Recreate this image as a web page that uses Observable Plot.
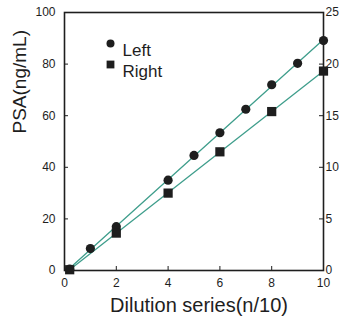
<!DOCTYPE html>
<html><head><meta charset="utf-8">
<script src="https://cdn.jsdelivr.net/npm/d3@7"></script>
<script src="https://cdn.jsdelivr.net/npm/@observablehq/plot@0.6"></script>
<style>body{margin:0;background:#fff;font-family:"Liberation Sans",Arial,sans-serif}</style>
</head><body><div id="chart"></div>
<script>
const seriesNames = ["Left", "Right"];
const seriesSymbols = ["circle", "square"];
const leftX = [0.2, 1, 2, 4, 5, 6, 7, 8, 9, 10];
const leftY = [0.5, 8.5, 17, 35, 44.6, 53.4, 62.5, 72, 80.3, 89.1];
const rightX = [0.2, 2, 4, 6, 8, 10];
const rightY = [0.3, 14.5, 30, 46, 61.6, 77.3];
const xTicks = [0, 2, 4, 6, 8, 10];
const yTicks = [0, 20, 40, 60, 80, 100];
const y2Ticks = [0, 5, 10, 15, 20, 25];
const xLabel = "Dilution series(n/10)";
const yLabel = "PSA(ng/mL)";

const data = [
  ...leftX.map((x, i) => ({series: seriesNames[0], x, y: leftY[i]})),
  ...rightX.map((x, i) => ({series: seriesNames[1], x, y: rightY[i]}))
];
const legendItems = seriesNames.map((name, i) => ({name, symbol: seriesSymbols[i], i}));
const y2scale = 100 / 25;
const font = "Liberation Sans, Arial, sans-serif";
const ink = "#1e1e1e";
const teal = "#3f9e8c";

const chart = Plot.plot({
  width: 339, height: 317,
  marginLeft: 64, marginRight: 16, marginTop: 12, marginBottom: 47,
  style: {fontFamily: font, color: ink, background: "#fff"},
  x: {domain: [0, 10]},
  y: {domain: [0, 100]},
  marks: [
    Plot.frame({stroke: ink, strokeWidth: 1.6}),
    Plot.axisX({ticks: xTicks, tickSize: -4, tickPadding: 12, fontSize: 12, label: null, stroke: ink}),
    Plot.axisY({ticks: yTicks, tickSize: -4, tickPadding: 13, fontSize: 12, label: null, stroke: ink}),
    Plot.axisY({anchor: "right", ticks: y2Ticks.map(d => d * y2scale), tickFormat: d => d / y2scale,
      tickSize: -5, tickPadding: 7, fontSize: 12, label: null, stroke: ink}),
    Plot.linearRegressionY(data, {x: "x", y: "y", z: "series", stroke: teal, strokeWidth: 1.3, ci: 0}),
    Plot.dot(data.filter(d => d.series === seriesNames[0]), {x: "x", y: "y", r: 4.6, fill: ink, symbol: seriesSymbols[0]}),
    Plot.dot(data.filter(d => d.series === seriesNames[1]), {x: "x", y: "y", r: 5.2, fill: ink, symbol: seriesSymbols[1]}),
    // legend
    Plot.dot(legendItems.slice(0, 1), {frameAnchor: "top-left", dx: 46, dy: 31, fill: ink, r: 4, symbol: "symbol"}),
    Plot.dot(legendItems.slice(1), {frameAnchor: "top-left", dx: 46, dy: 52, fill: ink, r: 4.4, symbol: "symbol"}),
    Plot.text(legendItems.slice(0, 1), {frameAnchor: "top-left", text: "name", dx: 58, dy: 31, textAnchor: "start", fontSize: 17, fill: ink}),
    Plot.text(legendItems.slice(1), {frameAnchor: "top-left", text: "name", dx: 58, dy: 52, textAnchor: "start", fontSize: 17, fill: ink}),
    Plot.text([yLabel], {frameAnchor: "left", rotate: -90, dx: -45, dy: -8, fontSize: 19, fill: ink}),
    Plot.text([xLabel], {frameAnchor: "bottom", dy: 41, dx: 5, fontSize: 20, fill: ink})
  ]
});
document.getElementById("chart").append(chart);
</script></body></html>
